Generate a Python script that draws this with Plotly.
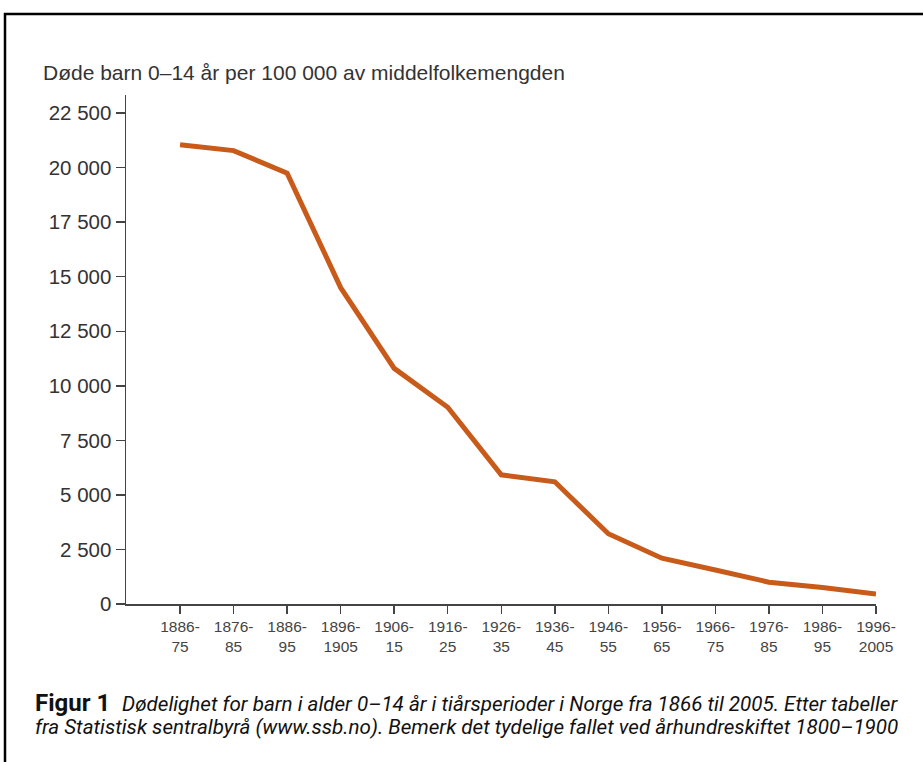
import plotly.graph_objects as go

periods = ["1886-<br>75", "1876-<br>85", "1886-<br>95", "1896-<br>1905", "1906-<br>15",
           "1916-<br>25", "1926-<br>35", "1936-<br>45", "1946-<br>55", "1956-<br>65",
           "1966-<br>75", "1976-<br>85", "1986-<br>95", "1996-<br>2005"]
deaths = [21050, 20780, 19750, 14500, 10800, 9020, 5920, 5600, 3220, 2100, 1560, 1000, 760, 460]
y_ticks = [0, 2500, 5000, 7500, 10000, 12500, 15000, 17500, 20000, 22500]
y_ticktext = ["0", "2 500", "5 000", "7 500", "10 000", "12 500", "15 000", "17 500", "20 000", "22 500"]

idx = list(range(len(periods)))

W, H = 923, 762
L, T = 126, 95
pw, ph = 750, 509
R = W - L - pw
B = H - T - ph

def px(x):
    return (x - L) / pw

def py(y):
    return (H - B - y) / ph

fig = go.Figure()
fig.add_trace(go.Scatter(x=idx, y=deaths, mode="lines",
                         line=dict(color="#c95b1a", width=5), hoverinfo="skip"))

fig.update_layout(
    width=W, height=H,
    margin=dict(l=L, r=R, t=T, b=B, pad=0),
    plot_bgcolor="white", paper_bgcolor="white",
    showlegend=False,
    font=dict(family="Liberation Sans, Arial, sans-serif", color="#333333"),
    xaxis=dict(range=[-1.01, 13], tickmode="array", tickvals=idx, ticktext=periods,
               showgrid=False, zeroline=False, showline=True, linecolor="#444444",
               linewidth=1.5, ticks="outside", ticklen=8, tickwidth=1.5, tickcolor="#444444",
               tickfont=dict(size=15.5, color="#444444")),
    yaxis=dict(range=[0, 23330], tickmode="array", tickvals=y_ticks, ticktext=y_ticktext,
               showgrid=False, zeroline=False, showline=True, linecolor="#444444",
               linewidth=1.5, ticks="outside", ticklen=9, tickwidth=1.5, tickcolor="#444444",
               tickfont=dict(size=20.5, color="#333333")),
)

fig.add_shape(type="rect", xref="paper", yref="paper",
              x0=px(5), x1=px(990), y0=py(830), y1=py(14),
              line=dict(color="black", width=2.5), fillcolor="rgba(0,0,0,0)", layer="above")

fig.add_annotation(xref="paper", yref="paper", x=px(41), y=py(72), xanchor="left", yanchor="middle",
                   text="Døde barn 0–14 år per 100 000 av middelfolkemengden", showarrow=False,
                   font=dict(size=21, color="#333333"))

fig.add_annotation(xref="paper", yref="paper", x=px(33), y=py(703), xanchor="left", yanchor="middle",
                   text="<b>Figur 1</b>  <i><span style='font-size:20.6px'>Dødelighet for barn i alder 0–14 år i tiårsperioder i Norge fra 1866 til 2005. Etter tabeller</span></i>",
                   showarrow=False, font=dict(size=24, color="#111111", family="Roboto, sans-serif"))
fig.add_annotation(xref="paper", yref="paper", x=px(33), y=py(727), xanchor="left", yanchor="middle",
                   text="<i>fra Statistisk sentralbyrå (www.ssb.no). Bemerk det tydelige fallet ved århundreskiftet 1800–1900</i>",
                   showarrow=False, font=dict(size=20.6, color="#111111", family="Roboto, sans-serif"))

fig.write_html("out.html", config={"displayModeBar": False, "staticPlot": True},
               post_script="document.body.style.margin='0px';document.body.style.overflow='hidden';")
